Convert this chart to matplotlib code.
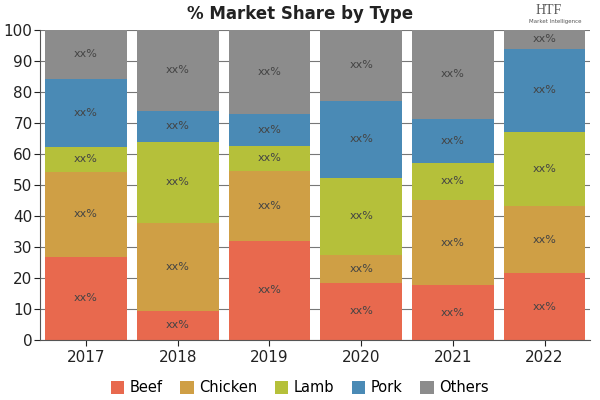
"""Stacked bar chart: % market share by meat type."""

import matplotlib.pyplot as plt
import numpy as np

years = ["2017", "2018", "2019", "2020", "2021", "2022"]
types = ["Beef", "Chicken", "Lamb", "Pork", "Others"]
beef = [26.9, 9.5, 32.0, 18.4, 17.7, 21.6]
chicken = [27.3, 28.2, 22.5, 9.0, 27.5, 21.6]
lamb = [8.1, 26.3, 8.1, 24.9, 11.9, 23.9]
pork = [21.9, 9.9, 10.3, 24.8, 14.2, 26.8]
others = [15.8, 26.1, 27.1, 22.9, 28.7, 6.1]
colors = ["#E8694E", "#CF9F45", "#B5C03A", "#4A8AB5", "#8C8C8C"]

fig = plt.figure(figsize=(6, 4), dpi=100)
ax = fig.add_axes([0.067, 0.15, 0.917, 0.775])

x = np.arange(len(years))
bottom = np.zeros(len(years))
for name, vals, col in zip(types, [beef, chicken, lamb, pork, others], colors):
    vals = np.array(vals)
    ax.bar(x, vals, 0.89, bottom=bottom, color=col, label=name, zorder=2)
    for xi, b, v in zip(x, bottom, vals):
        ax.text(xi, b + v / 2, "xx%", ha="center", va="center",
                fontsize=8, color="#444444", zorder=3)
    bottom += vals

ax.set_xlim(-0.5, len(years) - 0.5)
ax.set_ylim(0, 100)
ax.set_yticks(range(0, 101, 10))
ax.set_xticks(x)
ax.set_xticklabels(years)
ax.tick_params(axis="both", labelsize=11, colors="#222222", width=0.8)
ax.tick_params(axis="y", length=4, pad=1.5)
ax.tick_params(axis="x", length=4)
ax.yaxis.grid(True, color="#777777", linewidth=0.8, zorder=0)
for side in ["top", "right"]:
    ax.spines[side].set_visible(False)
for side in ["left", "bottom"]:
    ax.spines[side].set_color("#555555")

fig.text(0.5, 0.965, "% Market Share by Type", ha="center", va="center",
         fontsize=12, fontweight="bold", family=["Liberation Sans Narrow", "DejaVu Sans"],
         color="#222222")
fig.text(0.915, 0.975, "HTF", ha="center", va="center", fontsize=10,
         family="Liberation Serif", color="#555555")
fig.text(0.925, 0.945, "Market Intelligence", ha="center", va="center",
         fontsize=4, color="#555555")

fig.legend(loc="center", bbox_to_anchor=(0.5, 0.03), ncol=5, frameon=False,
           fontsize=10.5, handlelength=0.9, handleheight=0.9, columnspacing=1.2,
           handletextpad=0.4)

plt.savefig("out.png", dpi=100)
